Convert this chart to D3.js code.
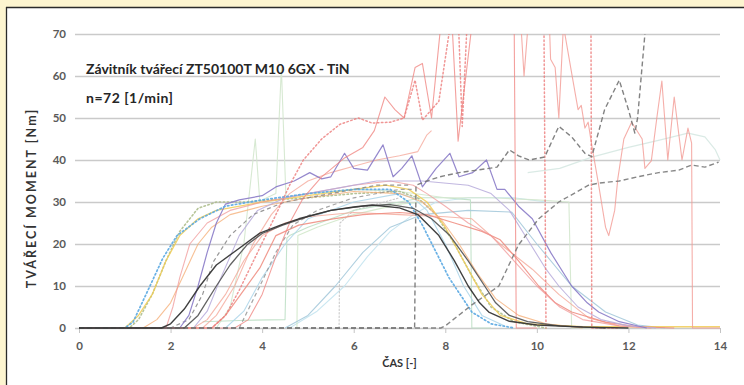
<!DOCTYPE html>
<html><head><meta charset="utf-8">
<script src="https://cdn.jsdelivr.net/npm/d3@7"></script>
<style>
html,body{margin:0;padding:0;background:#fdf5d0;}
svg{display:block;}
text{font-family:Lato,"Open Sans",sans-serif;}
</style></head>
<body>
<svg id="chart" width="744" height="385"></svg>
<script>
// ---------- DATA (x = ČAS [-], y = TVÁŘECÍ MOMENT [Nm]) ----------
const xTicks = [0, 2, 4, 6, 8, 10, 12, 14];
const yTicks = [0, 10, 20, 30, 40, 50, 60, 70];
const titleText = "Závitník tvářecí ZT50100T M10 6GX - TiN";
const subtitleText = "n=72 [1/min]";
const xLabel = "ČAS [-]";
const yLabel = "TVÁŘECÍ MOMENT [Nm]";

const blackA = [[0,0],[1.8,0],[2.0,1],[2.3,4.5],[2.64,10],[3.0,15],[3.5,19],[3.95,22.6],[4.4,24.5],[4.8,26],[5.5,28],[6.0,28.8],[6.4,29.3],[7.0,28.6],[7.4,27],[7.86,22],[8.2,16],[8.5,10],[8.75,6],[8.95,3.8],[9.4,1.6],[10,0.7],[11,0.2],[12,0]];
const blackB = [[0,0],[2.3,0],[2.6,3],[3.0,10],[3.3,15],[3.67,19.8],[4.0,22.5],[4.45,24.5],[5.0,26.5],[5.5,28],[6.2,29],[6.8,29.4],[7.3,28.5],[7.7,26],[8.1,22],[8.5,16],[8.86,10],[9.1,6],[9.4,3],[9.8,1.5],[10.5,0.5],[11.5,0]];
const blueDotted = [[0,0],[1.0,0],[1.18,1.4],[1.55,10],[1.83,16.6],[2.14,22],[2.64,26],[3.2,29],[4.0,30.5],[5.0,32],[6.0,33],[6.8,33],[7.2,30],[7.5,24.5],[8.08,12],[8.58,3.8],[9.0,1],[9.5,0]];
const oliveDotted = [[0,0],[1.1,0],[1.3,2],[1.6,8],[1.9,16],[2.2,23],[2.6,28.5],[3.0,30],[3.6,30],[4.2,30.5],[5.0,31],[6.0,32],[7.0,32.5],[7.4,31],[7.8,27],[8.2,20],[8.6,12],[9.0,5],[9.5,1.5],[10.2,0]];
const yellowLine = [[0,0],[1.0,0],[1.3,3],[1.6,8],[1.9,16],[2.2,22],[2.6,26],[3.0,28],[4.0,30],[5,31.5],[6,33],[6.7,34],[7.2,33],[7.6,30],[8.0,24],[8.4,16],[8.8,8],[9.2,3],[9.8,1],[11,0.3],[14,0.3]];
const orangeLine = [[1.4,0],[1.7,2],[2.0,6],[2.3,13],[2.6,20],[2.9,24],[3.3,27],[4,29],[5,31],[6,32.5],[7,32],[7.5,30],[7.9,26],[8.3,20],[8.7,13],[9.1,7],[9.6,3],[10.2,1],[11,0]];
const purpleLine = [[0,0],[2.2,0],[2.4,3],[2.6,10],[2.8,18],[3.0,25],[3.2,29.5],[3.5,30.5],[4.0,31.5],[4.3,33.6],[4.7,35],[5.04,37],[5.3,35.5],[5.5,36],[5.8,41.6],[6.0,38],[6.3,37.6],[6.64,43.6],[6.86,36],[7.05,38],[7.27,41],[7.5,33.6],[7.8,38],[8.1,41.6],[8.3,36],[8.6,37],[8.9,40],[9.13,33],[9.3,33],[9.6,29],[9.9,26],[10.3,18],[10.76,10],[11.1,6],[11.35,3.8],[11.8,1.5],[12.4,0]];
const lavenderLine = [[2.5,0],[2.8,4],[3.1,12],[3.5,22],[3.9,28],[4.5,31],[5.5,33],[6.5,35],[7.5,35],[8.5,34],[9.0,32],[9.4,28],[9.8,21],[10.2,14],[10.48,10],[10.9,5],[11.4,2],[12,0.5],[12.6,0]];
const redSolidA = [[0,0],[3.4,0],[3.7,2],[4.0,8],[4.3,17],[4.6,25],[4.9,31],[5.3,36],[5.8,40.5],[6.2,43],[6.45,47],[6.68,55],[6.9,52],[7.1,50],[7.34,62],[7.5,63],[7.7,50],[7.9,72],[8.0,78],[8.15,72],[8.28,44.5],[8.45,60],[8.58,72],[9.0,80],[9.5,80],[9.55,0],[10,0]];
const redSolidB = [[9.62,78],[9.72,60],[9.85,78]];
const redSolidC = [[10.25,80],[10.3,64],[10.4,62],[10.48,50],[10.58,72],[10.76,60.7],[10.9,52],[10.97,53],[11.05,47.6],[11.12,49],[11.2,43.5],[11.35,34],[11.5,24],[11.57,22],[11.7,28],[11.77,35.7],[11.9,45],[12.07,49],[12.3,45],[12.36,38],[12.5,39.8],[12.62,50],[12.73,58.8],[12.86,40],[13.0,55],[13.17,40],[13.3,47.6],[13.38,44],[13.4,0],[14,0]];
const redDotted = [[0,0],[2.9,0],[3.2,3],[3.5,9],[3.9,18],[4.3,27],[4.6,34],[4.9,40],[5.3,45],[5.7,48.5],[6.1,50],[6.4,48.8],[6.8,49],[7.1,50],[7.34,59],[7.5,49.5],[7.86,54],[8.08,70],[8.2,78],[8.28,75],[8.37,48],[8.5,78],[9,80],[10.15,80],[10.2,0]];
const redDottedB = [[11.18,80],[11.2,0],[11.8,0]];
const salmonLow = [[0,0],[2.9,0],[3.2,3],[3.6,9],[3.95,14.3],[4.3,22],[4.8,24.5],[5.55,26],[6.2,27],[7.0,27.5],[7.6,27],[8.2,25],[8.8,23],[9.2,21],[9.6,16],[10.04,10],[10.4,6],[10.76,3.8],[11.5,1.4],[12.2,0.3],[13,0]];
const salmonLow2 = [[0,0],[2.5,0],[2.8,2],[3.2,8],[3.6,16],[4.0,22],[4.5,25],[5.0,26.5],[6,27.5],[7,27],[8,26.5],[8.58,26],[9.2,20],[9.9,14],[10.48,8],[11.13,2.4],[11.8,0.5],[12.5,0]];
const salmonMid = [[0,0],[2.7,0],[3.0,3],[3.4,10],[3.8,20],[4.2,27],[4.6,32],[5.0,35],[5.5,37],[6.0,38.5],[6.5,40],[7.0,41],[7.4,42],[7.6,46],[7.7,47]];
const pinkRed = [[0,0],[1.9,0],[2.05,5],[2.2,12],[2.42,20],[2.8,25],[3.3,28],[4,30],[5,32],[6,34],[6.8,35],[7.3,34],[7.6,32],[8.0,29],[8.5,25],[9.0,22],[9.5,16],[10,10],[10.5,5],[11,2],[11.8,0.5],[12.5,0]];
const lightBlueA = [[4.5,0],[5.0,3],[5.6,10],[6.2,18],[6.8,24],[7.5,27],[8.5,28],[9.45,27.6],[10.0,20],[10.76,10],[11.5,3.8],[12.2,0.7],[12.8,0]];
const lightBlueB = [[3.2,0],[3.6,4],[4.0,12],[4.5,20],[5.0,26],[6.0,30],[7.0,32],[7.3,31],[7.6,28],[8.0,20],[8.4,10],[8.8,3],[9.3,0.5]];
const grayDashedA = [[0,0],[7.33,0],[7.36,34],[7.6,35],[7.88,36],[8.3,37],[8.7,37.6],[9.13,38.3],[9.4,42.4],[9.6,41],[9.83,40],[10.17,40.7],[10.48,48],[10.76,45.5],[11.05,41.6],[11.2,40.8],[11.48,52],[11.8,59],[12.0,52],[12.14,46.4],[12.2,50],[12.36,70],[12.4,72]];
const grayDashedB = [[0,0],[7.9,0],[8.0,0.5],[8.58,5.5],[9.17,10],[9.6,19.8],[10.04,26],[10.48,30],[11.13,34],[11.35,34.5],[11.8,35],[12.2,36],[12.66,37],[13.1,37.6],[13.38,38.8],[13.67,38.3],[13.97,39.5]];
const grayDashedC = [[0,0],[2.0,0],[2.4,2],[2.7,8],[2.93,15.7],[3.3,22],[3.8,27],[4.5,30],[5.5,32],[6.5,34],[7.2,34]];
const grayDashedD = [[3.5,0],[3.95,10],[4.3,18],[4.67,24.5],[5.2,28],[6,31],[7,33],[7.33,33]];
const paleGreenA = [[0,0],[3.0,0],[3.3,5],[3.6,20],[3.7,30],[3.85,45],[3.95,30],[4.1,31],[4.3,32],[4.42,62],[4.52,31],[5,32],[6,33],[7,32.5],[8,31],[9,31],[10,30.5],[10.7,30],[10.76,0],[11.2,0]];
const paleGreenB = [[2.7,1.5],[3.5,1.8],[4.5,2],[4.54,21.4],[4.6,22],[5,24],[6,28],[7,30],[7.5,31],[8.0,31],[8.55,30.5],[8.58,0],[9,0]];
const paleGreenC = [[4.76,0],[4.78,22],[5.2,24],[6,27],[7,29.5],[7.5,30]];
const grayDottedV = [[5.68,0],[5.7,25],[6,28],[7,31]];
const paleCyan = [[4.6,0],[5.2,4],[5.8,10],[6.3,17],[6.8,23],[7.3,27],[7.8,30],[8.5,31],[9.5,31],[10.2,30]];
const paleUpper = [[9.8,37],[10.5,38],[11.2,40.7],[12.0,43],[12.7,44.8],[13.3,46.4],[13.67,45.5],[13.9,42.4],[14,40]];

// ---------- STYLES (separate from data) ----------
const seriesList = [
  {d: paleUpper,    c:"#d6e8e2", w:1.2, dash:null, o:0.9},
  {d: paleCyan,     c:"#c4e4ef", w:1.1, dash:null, o:0.9},
  {d: grayDottedV,  c:"#c4c4c4", w:1.1, dash:"1.5,2", o:0.9},
  {d: paleGreenC,   c:"#d2e8ca", w:1.1, dash:null, o:0.9},
  {d: paleGreenB,   c:"#bfe0c6", w:1.1, dash:null, o:0.9},
  {d: paleGreenA,   c:"#d3e7cd", w:1.1, dash:null, o:0.9},
  {d: lightBlueB,   c:"#b0d7ea", w:1.1, dash:null, o:0.9},
  {d: lightBlueA,   c:"#a6cadb", w:1.1, dash:null, o:0.9},
  {d: oliveDotted,  c:"#a9ba86", w:1.6, dash:"1.5,2.5", o:0.85},
  {d: yellowLine,   c:"#f1cc55", w:1.3, dash:null, o:0.85},
  {d: orangeLine,   c:"#f5b07a", w:1.1, dash:null, o:0.8},
  {d: salmonLow2,   c:"#f4a898", w:1.1, dash:null, o:0.8},
  {d: salmonLow,    c:"#ef8a7c", w:1.2, dash:null, o:0.85},
  {d: pinkRed,      c:"#f09898", w:1.1, dash:null, o:0.75},
  {d: salmonMid,    c:"#f4a496", w:1.1, dash:null, o:0.75},
  {d: lavenderLine, c:"#b6aadb", w:1.1, dash:null, o:0.85},
  {d: grayDashedD,  c:"#949494", w:1.2, dash:"4,3", o:0.85},
  {d: grayDashedC,  c:"#858585", w:1.2, dash:"4,3", o:0.85},
  {d: purpleLine,   c:"#8a7bc8", w:1.2, dash:null, o:0.9},
  {d: blueDotted,   c:"#5aa8e2", w:1.7, dash:"1.5,2.5", o:0.9},
  {d: redSolidA,    c:"#f08884", w:1.1, dash:null, o:0.8},
  {d: redSolidB,    c:"#f29a94", w:1.1, dash:null, o:0.8},
  {d: redSolidC,    c:"#f29a94", w:1.1, dash:null, o:0.8},
  {d: redDotted,    c:"#ec7c7a", w:1.5, dash:"1.5,2.5", o:0.8},
  {d: redDottedB,   c:"#ec7c7a", w:1.5, dash:"1.5,2.5", o:0.8},
  {d: grayDashedB,  c:"#7a7a7a", w:1.4, dash:"5,3", o:0.9},
  {d: grayDashedA,  c:"#747474", w:1.4, dash:"5,3", o:0.9},
  {d: blackB,       c:"#5a5a5a", w:1.3, dash:null, o:0.95},
  {d: blackA,       c:"#363636", w:1.4, dash:null, o:0.95}
];

// ---------- DRAW ----------
const svg = d3.select("#chart");
const W = 744, H = 385;
const margin = {left:79, right:24, top:34, bottom:57};
const iw = W - margin.left - margin.right;
const ih = H - margin.top - margin.bottom;

// panel
svg.append("rect").attr("x",0).attr("y",0).attr("width",W).attr("height",H).attr("fill","#fdf5d0");
svg.append("rect").attr("x",6).attr("y",7).attr("width",W).attr("height",H).attr("fill","#ffffff");
svg.append("line").attr("x1",6).attr("x2",W).attr("y1",7.5).attr("y2",7.5).attr("stroke","#2a2a2a").attr("stroke-width",1.3);
svg.append("line").attr("x1",6.5).attr("x2",6.5).attr("y1",7).attr("y2",H).attr("stroke","#2a2a2a").attr("stroke-width",1.3);

const x = d3.scaleLinear().domain([0,14]).range([0,iw]);
const y = d3.scaleLinear().domain([0,70]).range([ih,0]);

const g = svg.append("g").attr("transform",`translate(${margin.left},${margin.top})`);

// gridlines + y labels
const yAxis = g.append("g").call(d3.axisLeft(y).tickValues(yTicks).tickSize(-iw).tickPadding(10).tickFormat(d3.format("d")));
yAxis.select(".domain").remove();
yAxis.selectAll(".tick line").attr("stroke","#cacaca").attr("stroke-width",1.6).attr("x1",-4);
yAxis.selectAll(".tick text").attr("fill","#5a5a5a").attr("font-size","11.5px").attr("font-weight","bold").attr("x",-13);

// x axis ticks + labels
const xAxis = g.append("g").attr("transform",`translate(0,${ih})`).call(d3.axisBottom(x).tickValues(xTicks).tickSize(5).tickPadding(9).tickFormat(d3.format("d")));
xAxis.select(".domain").remove();
xAxis.selectAll(".tick line").attr("stroke","#c4c4c4").attr("stroke-width",1);
xAxis.selectAll(".tick text").attr("fill","#5a5a5a").attr("font-size","11.5px").attr("font-weight","bold");

// clip
svg.append("defs").append("clipPath").attr("id","plotclip")
  .append("rect").attr("x",0).attr("y",0).attr("width",iw+2).attr("height",ih+2);

const line = d3.line().x(d=>x(d[0])).y(d=>y(d[1]));
const lg = g.append("g").attr("clip-path","url(#plotclip)");
seriesList.forEach(s=>{
  lg.append("path").datum(s.d).attr("d",line)
    .attr("fill","none").attr("stroke",s.c).attr("stroke-width",s.w)
    .attr("stroke-linejoin","round").attr("stroke-linecap", s.dash && s.dash.startsWith("1.5") ? "round" : "butt")
    .attr("stroke-dasharray", s.dash).attr("opacity",s.o);
});

// texts
svg.append("text").attr("x",86).attr("y",74).attr("font-size","14px").attr("font-weight","bold").attr("fill","#262626").text(titleText);
svg.append("text").attr("x",86).attr("y",103).attr("font-size","14px").attr("font-weight","bold").attr("fill","#262626").attr("letter-spacing","0.5px").text(subtitleText);
svg.append("text").attr("x",margin.left+iw/2).attr("y",367).attr("text-anchor","middle").attr("font-size","11px").attr("font-weight","bold").attr("fill","#333").text(xLabel);
svg.append("text").attr("transform","translate(36,198) rotate(-90)").attr("text-anchor","middle").attr("font-size","12.5px").attr("font-weight","bold").attr("letter-spacing","2px").attr("fill","#333").text(yLabel);
</script>
</body></html>
